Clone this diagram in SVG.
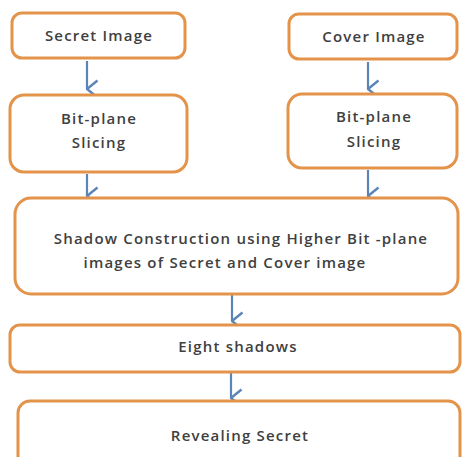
<svg xmlns="http://www.w3.org/2000/svg" width="462" height="457" viewBox="0 0 462 457">
<defs>
<style>
.box{fill:#fff;stroke:#E3934A;stroke-width:3}
.t{font-family:"Open Sans","Noto Sans",sans-serif;font-size:15px;letter-spacing:1.2px;fill:#404040;text-anchor:middle;font-weight:600}
.c{stroke:#5B84B8;stroke-width:2.2;fill:none}
</style>
<marker id="ah" viewBox="0 0 20 13" refX="10" refY="12" markerWidth="20" markerHeight="13" markerUnits="userSpaceOnUse" orient="auto-start-reverse">
<path d="M1.5,1.5 L10,12 L18.5,1.5" fill="none" stroke="#5B84B8" stroke-width="2.4"/>
</marker>
</defs>
<rect width="462" height="457" fill="#fff"/>
<g id="connectors">
<line class="c" x1="87" y1="61" x2="87" y2="89" marker-end="url(#ah)"/>
<line class="c" x1="87" y1="174" x2="87" y2="196" marker-end="url(#ah)"/>
<line class="c" x1="368" y1="62" x2="368" y2="89" marker-end="url(#ah)"/>
<line class="c" x1="368" y1="170" x2="368" y2="196" marker-end="url(#ah)"/>
<line class="c" x1="232" y1="295" x2="232" y2="321" marker-end="url(#ah)"/>
<line class="c" x1="231" y1="373" x2="231" y2="398" marker-end="url(#ah)"/>
</g>
<g id="secret-image">
<rect class="box" x="12" y="13" width="173" height="45" rx="10"/>
<text class="t" x="99" y="41">Secret Image</text>
</g>
<g id="cover-image">
<rect class="box" x="289" y="14" width="168" height="45" rx="10"/>
<text class="t" x="374" y="42">Cover Image</text>
</g>
<g id="bitplane-left">
<rect class="box" x="10" y="95" width="177" height="77" rx="14"/>
<text class="t" x="99" y="124">Bit-plane</text>
<text class="t" x="99" y="148">Slicing</text>
</g>
<g id="bitplane-right">
<rect class="box" x="288" y="94" width="169" height="74" rx="14"/>
<text class="t" x="374" y="122">Bit-plane</text>
<text class="t" x="374" y="147">Slicing</text>
</g>
<g id="shadow-construction">
<rect class="box" x="15" y="198" width="443" height="96" rx="16"/>
<text class="t" x="241" y="244">Shadow Construction  using Higher Bit -plane</text>
<text class="t" x="225" y="268">images of Secret and Cover image</text>
</g>
<g id="eight-shadows">
<rect class="box" x="10" y="325" width="450" height="47" rx="10"/>
<text class="t" x="238" y="352">Eight shadows</text>
</g>
<g id="revealing-secret">
<rect class="box" x="18" y="401" width="442" height="70" rx="12"/>
<text class="t" x="240" y="441">Revealing Secret</text>
</g>
</svg>
